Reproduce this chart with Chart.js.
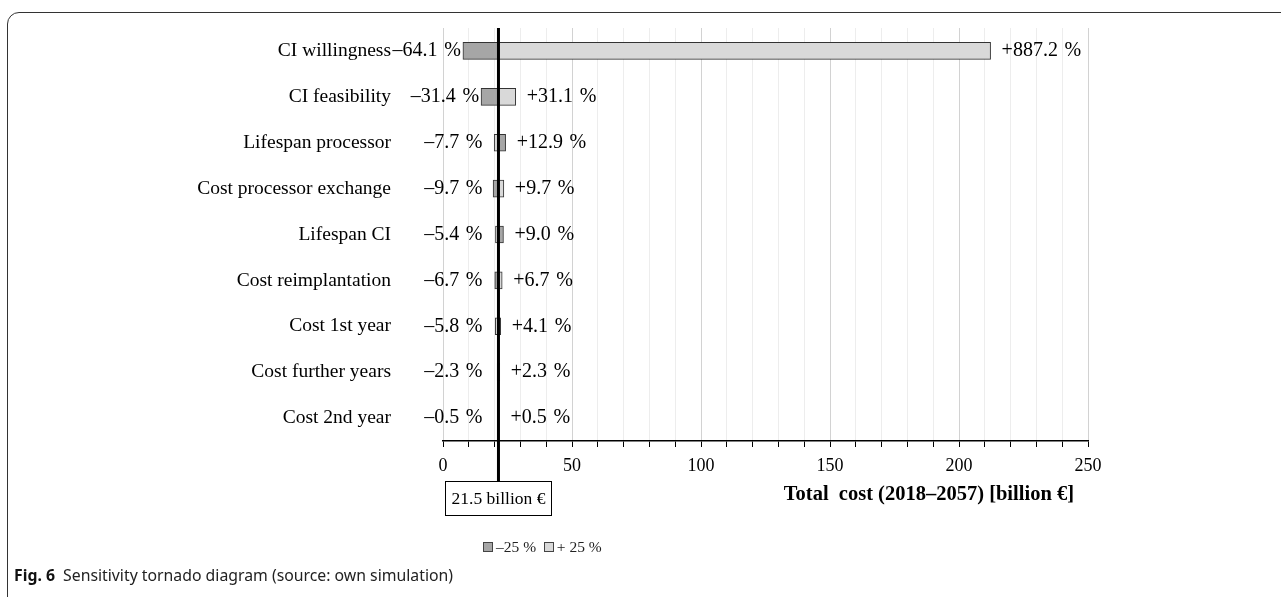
<!DOCTYPE html>
<html>
<head>
<meta charset="utf-8">
<script src="https://cdn.jsdelivr.net/npm/chart.js@4.4.1/dist/chart.umd.min.js"></script>
<style>
  html, body { margin: 0; padding: 0; background: #fff; overflow: hidden; }
  body { width: 1281px; height: 597px; position: relative; }
  #frame {
    position: absolute; left: 7px; top: 12px; width: 1400px; height: 700px;
    border: 1px solid #333; border-radius: 12px; box-sizing: border-box;
  }
  #chart { position: absolute; left: 0; top: 0; }
  #legend {
    position: absolute; left: 483px; top: 538px;
    font-family: "Liberation Serif", serif; font-size: 15.5px; color: #222;
    white-space: nowrap;
  }
  #legend .box {
    display: inline-block; width: 10px; height: 10px; border: 1px solid #444;
    box-sizing: border-box; vertical-align: 0px; margin-right: 3px;
  }
  #caption {
    position: absolute; left: 14px; top: 564px;
    font-family: "Noto Sans", sans-serif; font-size: 15.8px; color: #222; white-space: nowrap;
  }
  #caption b { color: #111; margin-right: 4px; }
</style>
</head>
<body>
<div id="frame"></div>
<canvas id="chart" width="1281" height="597"></canvas>
<div id="legend">
  <span class="box" style="background:#a6a6a6"></span>–25 %&nbsp;&nbsp;<span class="box" style="background:#d9d9d9"></span>+ 25 %
</div>
<div id="caption"><b>Fig. 6</b> Sensitivity tornado diagram (source: own simulation)</div>

<script>
// 数据
const categories = ['CI willingness', 'CI feasibility', 'Lifespan processor', 'Cost processor exchange',
  'Lifespan CI', 'Cost reimplantation', 'Cost 1st year', 'Cost further years', 'Cost 2nd year'];
const lowChange = [-64.1, -31.4, -7.7, -9.7, -5.4, -6.7, -5.8, -2.3, -0.5];   // % change of total cost
const highChange = [887.2, 31.1, 12.9, 9.7, 9.0, 6.7, 4.1, 2.3, 0.5];
const darkOnRight = [false, false, true, false, true, false, true, false, false];
const baseCost = 21.5;  // billion €
const xTicks = [0, 50, 100, 150, 200, 250];

const DARK = '#a6a6a6';
const LIGHT = '#d9d9d9';
const SERIF = '"Liberation Serif", "Times New Roman", serif';

const lowCost = lowChange.map(p => baseCost * (1 + p / 100));
const highCost = highChange.map(p => baseCost * (1 + p / 100));

const darkData = categories.map((c, i) => darkOnRight[i] ? [baseCost, highCost[i]] : [lowCost[i], baseCost]);
const lightData = categories.map((c, i) => darkOnRight[i] ? [lowCost[i], baseCost] : [baseCost, highCost[i]]);

function fmt(v) {
  return (v < 0 ? '\u2013' : '+') + Math.abs(v).toFixed(1) + ' \u200a%';
}

// 类别标签、数值标签、基准线、坐标轴标题和数值框
const tornadoExtras = {
  id: 'tornadoExtras',
  afterDatasetsDraw(chart) {
    const { ctx, chartArea, scales: { x, y } } = chart;
    const xBase = x.getPixelForValue(baseCost);
    ctx.save();
    ctx.fillStyle = '#000';
    ctx.textBaseline = 'middle';
    categories.forEach((c, i) => {
      const yc = y.getPixelForValue(i);
      const xl = x.getPixelForValue(lowCost[i]);
      const xh = x.getPixelForValue(highCost[i]);
      ctx.font = '19.5px ' + SERIF;
      ctx.textAlign = 'right';
      ctx.fillText(c, chartArea.left - 52, yc);
      ctx.font = '20px ' + SERIF;
      ctx.fillText(fmt(lowChange[i]), Math.min(xl - 2, xBase - 16), yc);
      ctx.textAlign = 'left';
      ctx.fillText(fmt(highChange[i]), Math.max(xh + 11, xBase + 12), yc);
    });

    // 坐标轴标题
    ctx.font = 'bold 20.5px ' + SERIF;
    ctx.textAlign = 'right';
    ctx.fillText('Total  cost (2018\u20132057) [billion \u20ac]', chartArea.right - 14, chartArea.bottom + 54);

    // 基准线
    const boxTop = chartArea.bottom + 40;
    ctx.strokeStyle = '#000';
    ctx.lineWidth = 3;
    ctx.beginPath();
    ctx.moveTo(xBase, chartArea.top);
    ctx.lineTo(xBase, boxTop);
    ctx.stroke();

    // 数值框
    const bw = 106, bh = 34;
    ctx.lineWidth = 1;
    ctx.fillStyle = '#fff';
    ctx.fillRect(xBase - bw / 2, boxTop, bw, bh);
    ctx.strokeRect(Math.round(xBase - bw / 2) + 0.5, boxTop + 0.5, bw, bh);
    ctx.fillStyle = '#000';
    ctx.textAlign = 'center';
    ctx.font = '17.5px ' + SERIF;
    ctx.fillText(baseCost.toFixed(1) + ' billion \u20ac', xBase, boxTop + bh / 2 + 1);
    ctx.restore();
  }
};

new Chart(document.getElementById('chart'), {
  type: 'bar',
  data: {
    labels: categories,
    datasets: [
      { label: '\u201325 %', data: darkData, backgroundColor: DARK, borderColor: '#333', borderWidth: 1,
        borderSkipped: false, barThickness: 17, grouped: false },
      { label: '+ 25 %', data: lightData, backgroundColor: LIGHT, borderColor: '#333', borderWidth: 1,
        borderSkipped: false, barThickness: 17, grouped: false }
    ]
  },
  options: {
    indexAxis: 'y',
    responsive: false,
    animation: false,
    devicePixelRatio: 1,
    layout: { padding: { top: 28, right: 193, bottom: 92, left: 0 } },
    plugins: { legend: { display: false }, tooltip: { enabled: false } },
    scales: {
      x: {
        type: 'linear',
        min: 0,
        max: 250,
        afterFit: s => { s.height = 64; },
        afterBuildTicks: s => {
          const t = [];
          for (let v = 0; v <= 250; v += 10) t.push({ value: v });
          s.ticks = t;
        },
        ticks: {
          autoSkip: false,
          maxRotation: 0,
          padding: 8,
          color: '#000',
          font: { family: SERIF, size: 18 },
          callback: v => xTicks.includes(v) ? String(v) : ''
        },
        grid: {
          color: c => (c.tick && xTicks.includes(c.tick.value)) ? '#d2d2d2' : '#ededed',
          tickColor: '#000',
          tickLength: 6,
          lineWidth: 1
        },
        border: { color: '#000', width: 1.5 }
      },
      y: {
        afterFit: s => { s.width = 443; },
        grid: { display: false, drawTicks: false },
        border: { display: false },
        ticks: { display: false }
      }
    }
  },
  plugins: [tornadoExtras]
});
</script>
</body>
</html>
